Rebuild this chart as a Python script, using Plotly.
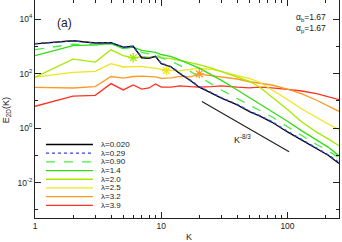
import plotly.graph_objects as go

# ---------------- data ----------------
K = [1, 2, 3, 4, 5, 6, 7, 8, 9, 10, 12, 14, 17, 20, 25, 30, 40, 50, 60, 75, 100, 130, 170, 210, 256]

E_lam_0020 = [1230, 1600, 1320, 1350, 930, 1000, 380, 363, 427, 229, 174, 100, 56, 31.6, 19, 12.6, 7.1, 4.0, 2.8, 1.66, 0.72, 0.355, 0.166, 0.10, 0.05]
E_lam_029 = [1250, 1600, 1300, 1350, 950, 1000, 400, 370, 420, 240, 180, 105, 58, 33, 20, 13, 7.4, 4.2, 2.9, 1.75, 0.76, 0.37, 0.175, 0.105, 0.055]
E_lam_090 = [760, 1200, 1120, 1260, 850, 930, 600, 525, 525, 380, 282, 200, 120, 76, 40, 25, 12, 7.1, 4.7, 2.6, 1.12, 0.52, 0.25, 0.148, 0.081]
E_lam_14 = [457, 1050, 1120, 1260, 830, 930, 710, 630, 600, 500, 417, 316, 224, 158, 89, 56, 25, 13.2, 7.9, 4.2, 1.78, 0.79, 0.355, 0.20, 0.095]
E_lam_20 = [74, 339, 263, 741, 457, 372, 417, 398, 417, 380, 355, 302, 251, 214, 158, 120, 76, 52, 32, 14, 4.8, 1.66, 0.71, 0.40, 0.224]
E_lam_25 = [74, 110, 120, 229, 174, 174, 182, 166, 158, 141, 132, 126, 141, 158, 141, 120, 83, 66, 48, 26, 11.2, 5.0, 2.4, 1.41, 0.89]
E_lam_32 = [31, 29.5, 33, 78, 68, 78, 81, 79, 76, 66, 69, 79, 76, 95, 83, 76, 63, 50, 45, 38, 27, 17.8, 10.5, 6.6, 4.1]
E_lam_39 = [6.3, 14.8, 15.8, 42.7, 25, 38, 27, 29.5, 41.7, 31.6, 31.6, 35.5, 33, 31.6, 33, 35.5, 31.6, 30, 31.6, 30, 26.3, 22.9, 18.2, 14.1, 11]

legend_labels = ["λ=0.020", "λ=0.29", "λ=0.90", "λ=1.4", "λ=2.0", "λ=2.5", "λ=3.2", "λ=3.9"]

star_K = [6, 11, 20]
star_E = [380, 129, 98]

ref_K = [21, 103]
ref_E = [9.4, 0.135]

# ---------------- styles ----------------
series = [E_lam_0020, E_lam_029, E_lam_090, E_lam_14, E_lam_20, E_lam_25, E_lam_32, E_lam_39]
colors = ["#000000", "#3344dd", "#44ee44", "#33dd11", "#a6ea00", "#f0e41c", "#ff9922", "#ff3322"]
dashes = ["solid", "dot", "dash", "solid", "solid", "solid", "solid", "solid"]
star_colors = ["#a6ea00", "#f0e41c", "#ff9922"]

fig = go.Figure()

order = [7, 6, 5, 4, 3, 2, 0, 1]
for i in order:
    fig.add_trace(go.Scatter(
        x=K, y=series[i], mode="lines",
        line=dict(color=colors[i], width=1.3, dash=dashes[i]),
        showlegend=False, hoverinfo="skip"))

fig.add_trace(go.Scatter(
    x=star_K, y=star_E, mode="markers",
    marker=dict(symbol="asterisk-open", size=8, color=star_colors,
                line=dict(color=star_colors, width=1.3)),
    showlegend=False, hoverinfo="skip"))

fig.add_trace(go.Scatter(
    x=ref_K, y=ref_E, mode="lines",
    line=dict(color="#222222", width=1.2),
    showlegend=False, hoverinfo="skip"))

# ---------------- layout ----------------
L, R, T, B = 35, 339.3, 0, 217.7
W, H = 342, 242

fig.update_layout(
    width=W, height=H,
    margin=dict(l=L, r=W - R, t=T, b=H - B, pad=0, autoexpand=False),
    paper_bgcolor="white", plot_bgcolor="white",
    font=dict(family="Liberation Sans, Arial, sans-serif", size=8.5, color="#222222"),
    showlegend=False,
)

fig.update_xaxes(
    type="log", range=[0, 2.40824], automargin=False,
    showline=True, linecolor="#222222", linewidth=1, mirror="ticks",
    ticks="inside", ticklen=6, tickcolor="#222222", tickwidth=1,
    tickvals=[1, 10, 100], ticktext=["1", "10", "100"],
    minor=dict(ticks="inside", ticklen=3, tickcolor="#222222",
               tickvals=[2, 3, 4, 5, 6, 7, 8, 9, 20, 30, 40, 50, 60, 70, 80, 90, 200], showgrid=False),
    showgrid=False, zeroline=False,
)
fig.update_yaxes(
    type="log", range=[-3.30103, 4.69897], automargin=False,
    showline=True, linecolor="#222222", linewidth=1, mirror="ticks",
    ticks="inside", ticklen=6, tickcolor="#222222", tickwidth=1,
    tickvals=[1e-2, 1, 1e2, 1e4],
    ticktext=["10<sup>-2</sup>", "10<sup>0</sup>", "10<sup>2</sup>", "10<sup>4</sup>"],
    minor=dict(ticks="inside", ticklen=3, tickcolor="#222222",
               tickvals=[1e-3, 1e-1, 10, 1e3], showgrid=False),
    showgrid=False, zeroline=False,
)

pw = R - L
ph = B - T


def px(x):
    return (x - L) / pw


def py(y):
    return 1 - (y - T) / ph


ann = []
ann.append(dict(text="K", x=px(189), y=py(236.5), xref="paper", yref="paper",
                showarrow=False, font=dict(size=9), xanchor="center", yanchor="middle"))
ann.append(dict(text="E<sub>2D</sub>(K)", x=px(6), y=py(110), xref="paper", yref="paper",
                showarrow=False, font=dict(size=9), textangle=-90, xanchor="center", yanchor="middle"))
ann.append(dict(text="(a)", x=px(55), y=py(23), xref="paper", yref="paper",
                showarrow=False, font=dict(size=12), xanchor="left", yanchor="middle"))
ann.append(dict(text="α<sub>b</sub>=1.67", x=px(328), y=py(17), xref="paper", yref="paper",
                showarrow=False, font=dict(size=8.5), xanchor="right", yanchor="middle"))
ann.append(dict(text="α<sub>p</sub>=1.67", x=px(328), y=py(28), xref="paper", yref="paper",
                showarrow=False, font=dict(size=8.5), xanchor="right", yanchor="middle"))
ann.append(dict(text="K<sup>-8/3</sup>", x=px(243), y=py(139), xref="paper", yref="paper",
                showarrow=False, font=dict(size=9), xanchor="center", yanchor="middle"))

shapes = []
row_y = [144.3, 153, 161.7, 170.3, 179, 187.7, 196.3, 205]
for i, lab in enumerate(legend_labels):
    shapes.append(dict(type="line", xref="paper", yref="paper",
                       x0=px(46), x1=px(93), y0=py(row_y[i]), y1=py(row_y[i]),
                       line=dict(color=colors[i], width=1.3, dash=dashes[i])))
    ann.append(dict(text=lab, x=px(99), y=py(row_y[i]), xref="paper", yref="paper",
                    showarrow=False, font=dict(size=8), xanchor="left", yanchor="middle"))

fig.update_layout(annotations=ann, shapes=shapes)

fig.write_html("out.html", config={"displayModeBar": False},
               post_script="document.body.style.margin='0';document.body.style.padding='0';")
